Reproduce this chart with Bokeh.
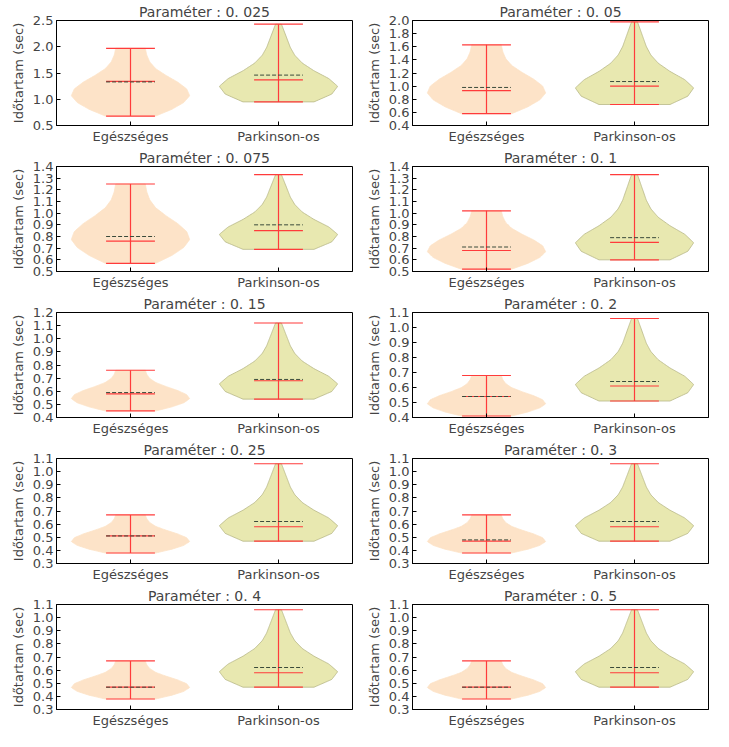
import numpy as np
from bokeh.plotting import figure
from bokeh.layouts import gridplot
from bokeh.models import Range1d, FixedTicker, NumeralTickFormatter
from bokeh.embed import file_html
from bokeh.resources import INLINE

params = ["0.025", "0.05", "0.075", "0.1", "0.15", "0.2", "0.25", "0.3", "0.4", "0.5"]
ylims = [(0.5, 2.5), (0.4, 2.0), (0.5, 1.4), (0.5, 1.4), (0.4, 1.2), (0.4, 1.1), (0.3, 1.1), (0.3, 1.1), (0.3, 1.1), (0.3, 1.1)]
ysteps = [0.5, 0.2, 0.1, 0.1, 0.1, 0.1, 0.1, 0.1, 0.1, 0.1]
# healthy: min, max, median, mean
h_min = [0.68, 0.58, 0.57, 0.52, 0.45, 0.41, 0.38, 0.38, 0.38, 0.38]
h_max = [1.97, 1.63, 1.25, 1.02, 0.76, 0.68, 0.67, 0.67, 0.67, 0.67]
h_med = [1.34, 0.93, 0.76, 0.68, 0.58, 0.54, 0.51, 0.47, 0.47, 0.47]
h_mean = [1.33, 0.98, 0.80, 0.71, 0.59, 0.54, 0.51, 0.48, 0.47, 0.47]
# parkinson
p_min = [0.95, 0.72, 0.69, 0.60, 0.54, 0.51, 0.47, 0.47, 0.47, 0.47]
p_max = [2.43, 1.98, 1.33, 1.33, 1.12, 1.06, 1.06, 1.06, 1.06, 1.06]
p_med = [1.37, 1.00, 0.85, 0.75, 0.68, 0.61, 0.58, 0.58, 0.58, 0.58]
p_mean = [1.46, 1.07, 0.90, 0.79, 0.69, 0.64, 0.62, 0.62, 0.62, 0.62]
# half-width profiles, bottom (min) to top (max), evenly spaced
h_profile = [0.17, 0.28, 0.36, 0.40, 0.38, 0.32, 0.24, 0.17, 0.13, 0.11, 0.10]
p_profile = [0.24, 0.36, 0.40, 0.34, 0.24, 0.16, 0.11, 0.08, 0.06, 0.04, 0.02]

RED = "#ff3b3b"
FONT = "DejaVu Sans"

def violin(p, pos, lo, hi, med, mean, prof, fill, line):
    t = np.linspace(0, 1, len(prof))
    tt = np.linspace(0, 1, 80)
    hw = np.interp(tt, t, prof)
    ys = lo + (hi - lo) * tt
    xs = np.concatenate([pos - hw, (pos + hw)[::-1]])
    yy = np.concatenate([ys, ys[::-1]])
    p.patch(xs, yy, fill_color=fill, fill_alpha=1, line_color=line, line_width=0.8)
    p.segment(pos, lo, pos, hi, line_color=RED, line_width=1.2)
    for v in (lo, hi, med):
        p.segment(pos - 0.165, v, pos + 0.165, v, line_color=RED, line_width=1.2)
    p.segment(pos - 0.165, mean, pos + 0.165, mean, line_color="#3a4a3a", line_width=1, line_dash="4 2")

figs = []
for i in range(10):
    y0, y1 = ylims[i]
    p = figure(width=356, height=146, output_backend="svg", toolbar_location=None,
               x_range=Range1d(0.5, 2.5), y_range=Range1d(y0, y1),
               min_border_left=56, min_border_right=4, min_border_top=2, min_border_bottom=2)
    p.title.text = "Paraméter : " + params[i].replace("0.", "0. ")
    p.title.align = "center"
    p.title.text_font_style = "normal"
    p.title.text_font_size = "14px"
    p.title.text_font = FONT
    p.title.standoff = 2
    p.grid.visible = False
    p.outline_line_color = "black"
    p.background_fill_color = "white"
    p.border_fill_color = "white"
    n = int(round((y1 - y0) / ysteps[i]))
    p.yaxis.ticker = FixedTicker(ticks=[round(y0 + k * ysteps[i], 2) for k in range(n + 1)])
    p.yaxis.formatter = NumeralTickFormatter(format="0.0")
    p.xaxis.ticker = FixedTicker(ticks=[1, 2])
    p.xaxis.major_label_overrides = {1: "Egészséges", 2: "Parkinson-os"}
    p.yaxis.axis_label = "Időtartam (sec)"
    p.yaxis.axis_label_text_font_style = "normal"
    p.yaxis.axis_label_text_font_size = "13px"
    p.yaxis.axis_label_standoff = 4
    for ax in (p.xaxis, p.yaxis):
        ax.major_label_text_font_size = "13px"
        ax.major_label_text_font = FONT
        ax.axis_label_text_font = FONT
        ax.major_tick_in = 4
        ax.major_tick_out = 0
        ax.major_label_standoff = 3
        ax.minor_tick_line_color = None
        ax.axis_line_color = "black"
    violin(p, 1, h_min[i], h_max[i], h_med[i], h_mean[i], h_profile, "#fde3c8", "#fde3c8")
    violin(p, 2, p_min[i], p_max[i], p_med[i], p_mean[i], p_profile, "#e8e8b0", "#b8b888")
    figs.append(p)

grid = gridplot([figs[i:i + 2] for i in range(0, 10, 2)], toolbar_location=None)
open("out.html", "w").write(file_html(grid, INLINE))
